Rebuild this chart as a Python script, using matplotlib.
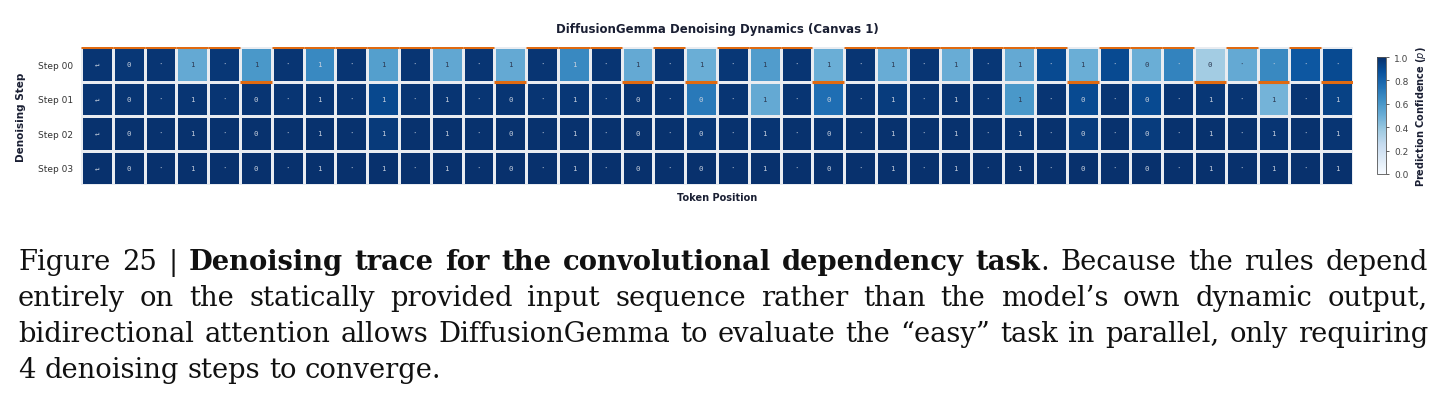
import matplotlib
matplotlib.use("Agg")
import matplotlib.pyplot as plt
import numpy as np

# token grid (rows = denoising steps, columns = token positions)
steps = ["Step 00", "Step 01", "Step 02", "Step 03"]
final_tokens = ("↵ 0 · 1 · 0 · 1 · 1 · 1 · 0 · 1 · 0 · 0 · 1 · "
                "0 · 1 · 1 · 1 · 0 · 0 · 1 · 1 · 1").split()
step0_tokens = ("↵ 0 · 1 · 1 · 1 · 1 · 1 · 1 · 1 · 1 · 1 · 1 · "
                "1 · 1 · 1 · 1 · 1 · 0 · 0 · · · ·").split()
tokens = [step0_tokens, final_tokens, final_tokens, final_tokens]

conf_step0 = [0.98, 0.97, 0.98, 0.52, 0.97, 0.60, 0.98, 0.66, 0.98, 0.57,
              0.98, 0.53, 0.98, 0.52, 0.98, 0.66, 0.98, 0.52, 0.98, 0.50,
              0.97, 0.58, 0.98, 0.50, 0.98, 0.51, 0.98, 0.51, 0.97, 0.52,
              0.90, 0.50, 0.90, 0.50, 0.68, 0.36, 0.52, 0.66, 0.85, 0.90]
conf_step1 = [0.98, 0.98, 0.98, 0.98, 0.98, 0.98, 0.98, 0.98, 0.98, 0.91,
              0.98, 0.98, 0.98, 0.98, 0.98, 0.97, 0.98, 0.98, 0.98, 0.72,
              0.98, 0.52, 0.98, 0.76, 0.98, 0.95, 0.98, 0.98, 0.98, 0.60,
              0.98, 0.90, 0.98, 0.90, 0.98, 0.97, 0.98, 0.48, 0.98, 0.93]
conf_step2 = [0.99, 0.99, 0.99, 0.99, 0.99, 0.99, 0.99, 0.99, 0.99, 0.96,
              0.99, 0.99, 0.99, 0.99, 0.99, 0.99, 0.99, 0.99, 0.99, 0.97,
              0.99, 0.98, 0.99, 0.98, 0.99, 0.99, 0.99, 0.99, 0.99, 0.98,
              0.99, 0.95, 0.99, 0.95, 0.99, 0.99, 0.99, 0.98, 0.99, 0.98]
conf_step3 = [0.995] * 40
conf = np.array([conf_step0, conf_step1, conf_step2, conf_step3])

caption_lines = [
    [[("Figure", 0)], [("25", 0)], [("|", 0)], [("Denoising", 1)], [("trace", 1)],
     [("for", 1)], [("the", 1)], [("convolutional", 1)], [("dependency", 1)],
     [("task", 1), (".", 0)], [("Because", 0)], [("the", 0)], [("rules", 0)], [("depend", 0)]],
    [[(w, 0)] for w in "entirely on the statically provided input sequence rather than the model’s own dynamic output,".split()],
    [[(w, 0)] for w in "bidirectional attention allows DiffusionGemma to evaluate the “easy” task in parallel, only requiring".split()],
    [[(w, 0)] for w in "4 denoising steps to converge.".split()],
]

W, H = 1449, 414
fig = plt.figure(figsize=(W / 100, H / 100), dpi=100)
ax = fig.add_axes([81 / W, 1 - 186 / H, (1353 - 81) / W, (186 - 48) / H])
cax = fig.add_axes([1377 / W, 1 - 175 / H, 9 / W, 117 / H])

nrow, ncol = conf.shape
mesh = ax.pcolormesh(conf, cmap="Blues", vmin=0, vmax=1,
                     edgecolors="#e9ecf1", linewidth=1.0)
ax.set_xlim(0, ncol)
ax.set_ylim(nrow, 0)

for r in range(nrow):
    for c in range(ncol):
        col = "#c7d0de" if conf[r, c] > 0.6 else "#2d3a52"
        ax.text(c + 0.5, r + 0.5, tokens[r][c], ha="center", va="center",
                fontsize=5.3, family="DejaVu Sans Mono", color=col)

# orange marker: step where each token first reaches its final value
for c in range(ncol):
    s = 0
    for r in range(nrow):
        if any(tokens[k][c] != final_tokens[c] for k in range(r, nrow)):
            s = r + 1
    ax.hlines(s, c, c + 1, color="#e06a10", linewidth=2.2, zorder=5)

ax.set_yticks(np.arange(nrow) + 0.5)
ax.set_yticklabels(steps, fontsize=6.5, color="#333333")
ax.set_xticks([])
ax.tick_params(axis="y", length=0, pad=6)
for sp in ax.spines.values():
    sp.set_visible(False)
ax.set_xlabel("Token Position", fontsize=7, fontweight="bold", color="#1a1f33", labelpad=5)
ax.set_ylabel("Denoising Step", fontsize=7.5, fontweight="bold", color="#1a1f33", labelpad=8)
ax.set_title("DiffusionGemma Denoising Dynamics (Canvas 1)", fontsize=8.5,
             fontweight="bold", color="#1a1f33", pad=11)

cb = fig.colorbar(mesh, cax=cax)
cb.set_ticks([0, 0.2, 0.4, 0.6, 0.8, 1.0])
cb.ax.tick_params(labelsize=6.5, length=2.5, width=0.6, colors="#444444")
cb.outline.set_linewidth(0.6)
cb.outline.set_edgecolor("#555555")
cb.set_label("Prediction Confidence ($p$)", fontsize=7, fontweight="bold",
             color="#1a1f33", labelpad=4)

# caption, justified between two margins
renderer = fig.canvas.get_renderer()
cap_font = "DejaVu Serif"
left, right = 18, 1428
baselines = [270, 306, 342, 378]


def piece_width(txt, bold, size):
    t = fig.text(0, 0, txt, fontsize=size, family=cap_font,
                 weight="bold" if bold else "normal")
    w = t.get_window_extent(renderer).width
    t.remove()
    return w


# pick a size so the widest full line just fits with normal spacing
probe = 20
sp = piece_width("a a", 0, probe) - piece_width("aa", 0, probe)
widest = max(sum(piece_width(t, b, probe) for wd in words for t, b in wd)
             + sp * (len(words) - 1) for words in caption_lines)
cap_size = probe * (right - left) / widest * 0.985

space_w = piece_width("a a", 0, cap_size) - piece_width("aa", 0, cap_size)
for i, words in enumerate(caption_lines):
    widths = [[piece_width(t, b, cap_size) for t, b in wd] for wd in words]
    total = sum(sum(w) for w in widths)
    if i < len(caption_lines) - 1:
        gap = (right - left - total) / (len(words) - 1)
    else:
        gap = space_w
    x = left
    y = 1 - baselines[i] / H
    for wd, ws in zip(words, widths):
        for (t, b), w in zip(wd, ws):
            fig.text(x / W, y, t, fontsize=cap_size, family=cap_font,
                     weight="bold" if b else "normal", va="baseline",
                     color="#111111")
            x += w
        x += gap

fig.savefig("out.png", dpi=100)
